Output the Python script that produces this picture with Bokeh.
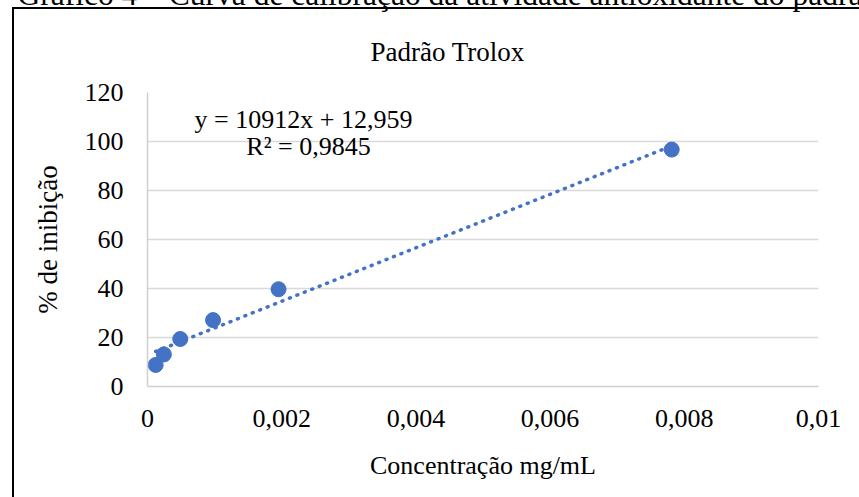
from bokeh.plotting import figure
from bokeh.models import Range1d, FixedTicker, Label, Title
from bokeh.embed import file_html
from bokeh.resources import INLINE

# ---- data ----
conc = [0.000122, 0.000244, 0.000488, 0.000977, 0.001953, 0.0078125]   # mg/mL
inib = [8.8, 13.1, 19.4, 27.1, 39.7, 96.7]                              # % de inibição
SLOPE = 10912
INTERCEPT = 12.959
eq_text = "y = 10912x + 12,959"
r2_text = "R² = 0,9845"
title_text = "Padrão Trolox"
caption_text = "Gráfico 4 – Curva de calibração da atividade antioxidante do padrão Trolox"
x_ticks = [0, 0.002, 0.004, 0.006, 0.008, 0.01]
x_tick_labels = ["0", "0,002", "0,004", "0,006", "0,008", "0,01"]
y_ticks = [0, 20, 40, 60, 80, 100, 120]

# ---- layout (page pixels) ----
W, H = 859, 497
M = 40                      # part of the canvas hidden above the page top
FL, FR, FT, FB = 147, 818, 92, 386
XMAX, YMAX = 0.01, 120
FONT = "Liberation Serif"
BLUE = "#4472C4"


def dx(page_x):
    return XMAX * (page_x - FL) / (FR - FL)


def dy(page_y):
    return YMAX * (FB - page_y) / (FB - FT)


bg = (f"linear-gradient(#000,#000) 12px {7 + M}px / 2px 100% no-repeat, "
      f"linear-gradient(#000,#000) 12px {7 + M}px / 100% 2px no-repeat, #fff")

p = figure(width=W, height=H + M, output_backend="svg", toolbar_location=None,
           title=None,
           x_range=Range1d(0, XMAX), y_range=Range1d(0, YMAX),
           min_border_left=FL, min_border_right=W - FR,
           min_border_top=FT + M, min_border_bottom=H - FB,
           styles={"background": bg, "margin-top": f"-{M}px"})
p.outline_line_color = None
p.background_fill_color = "white"
p.border_fill_color = None

# trendline from the displayed equation
xt = [min(conc), max(conc)]
yt = [SLOPE * v + INTERCEPT for v in xt]
p.line(xt, yt, line_color=BLUE, line_width=3.5, line_dash="1 7", line_cap="round")
p.scatter(conc, inib, size=15, color=BLUE)

# axes
p.xaxis.ticker = FixedTicker(ticks=x_ticks)
p.xaxis.major_label_overrides = dict(zip(x_ticks, x_tick_labels))
p.yaxis.ticker = FixedTicker(ticks=y_ticks)
for ax in (p.xaxis[0], p.yaxis[0]):
    ax.major_tick_line_color = None
    ax.minor_tick_line_color = None
    ax.major_tick_out = 0
    ax.major_tick_in = 0
    ax.axis_line_color = "#D0D0D0"
    ax.axis_line_width = 1.5
    ax.major_label_text_font = FONT
    ax.major_label_text_font_size = "26px"
    ax.major_label_text_color = "black"
    ax.axis_label_text_font = FONT
    ax.axis_label_text_font_size = "26px"
    ax.axis_label_text_font_style = "normal"
    ax.axis_label_text_color = "black"
p.xaxis.major_label_standoff = 23
p.yaxis.major_label_standoff = 24
p.xaxis.axis_label = "Concentração mg/mL"
p.yaxis.axis_label = "% de inibição"
p.yaxis.axis_label_text_font_size = "27px"
p.xaxis.axis_label_standoff = 21
p.yaxis.axis_label_standoff = 19

p.xgrid.grid_line_color = None
p.ygrid.grid_line_color = "#D9D9D9"
p.ygrid.grid_line_width = 1.5

# titles (inner first, outer second)
p.add_layout(Title(text=title_text, align="left", offset=370 - FL, standoff=52,
                   text_font=FONT, text_font_size="27px",
                   text_font_style="normal", text_color="black"), "above")
p.add_layout(Title(text=caption_text, align="left", offset=17 - FL, standoff=-6.5,
                   text_font=FONT, text_font_size="31.5px",
                   text_font_style="normal", text_color="black"), "above")

# equation labels inside the plot area
for text, px, py in ((eq_text, 303, 119), (r2_text, 308, 146)):
    p.add_layout(Label(x=dx(px), y=dy(py), text=text, text_align="center",
                       text_baseline="alphabetic", text_font=FONT,
                       text_font_size="26px", text_color="black"))

open("out.html", "w").write(file_html(p, INLINE))
